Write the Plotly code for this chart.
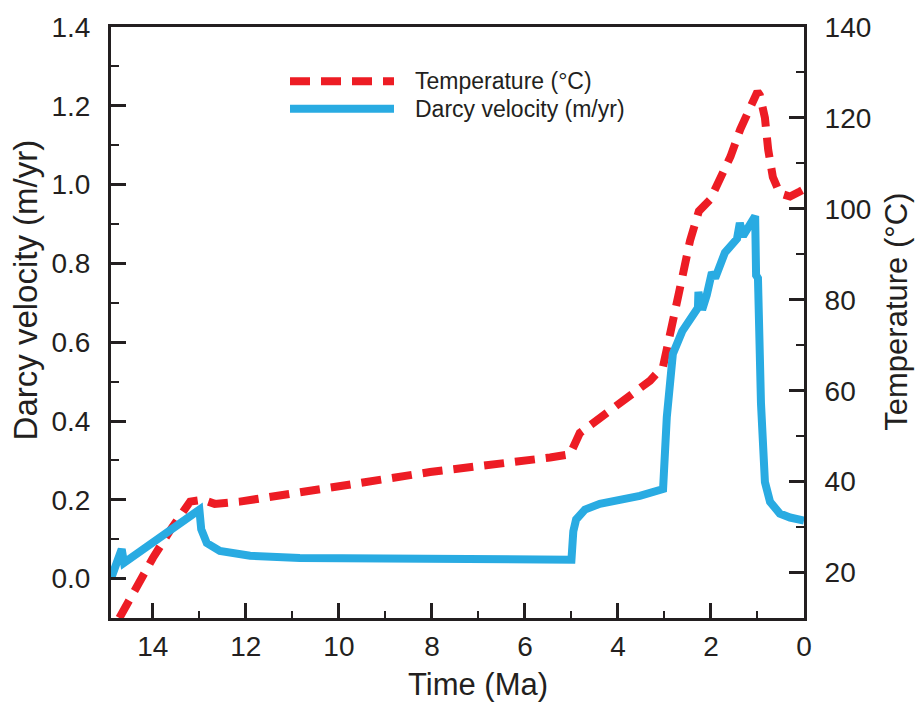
import plotly.graph_objects as go

# Darcy velocity (m/yr) vs time (Ma)
darcy_time = [14.9, 14.67, 14.62, 13.0, 12.96, 12.84, 12.56, 11.91, 10.84, 8.69, 5.0,
              4.96, 4.90, 4.71, 4.39, 3.53, 3.03, 2.95, 2.90, 2.82, 2.62, 2.45, 2.28, 2.27,
              2.19, 2.09, 1.98, 1.91, 1.70, 1.44, 1.38, 1.31, 1.16, 1.05, 1.03, 0.99,
              0.925, 0.84, 0.73, 0.52, 0.30, 0.0]
darcy_vel = [0.0, 0.075, 0.04, 0.175, 0.125, 0.09, 0.07, 0.058, 0.052, 0.05, 0.048,
             0.12, 0.15, 0.175, 0.19, 0.21, 0.2275, 0.41, 0.50, 0.57, 0.6275, 0.6625, 0.6875, 0.7275,
             0.6825, 0.72, 0.7775, 0.7625, 0.8275, 0.8625, 0.9025, 0.87, 0.895, 0.92, 0.77, 0.7625,
             0.445, 0.245, 0.195, 0.165, 0.155, 0.1475]

# Temperature (°C) vs time (Ma)
temp_time = [14.72, 14.28, 14.0, 13.6, 13.2, 12.92, 12.67, 12.13, 10.84, 8.04, 5.46, 5.03,
             4.82, 4.6, 3.96, 3.31, 3.03, 2.88, 2.73, 2.62, 2.45, 2.30, 2.26, 2.02, 1.80,
             1.58, 1.37, 1.16, 1.0, 0.95, 0.84, 0.77, 0.67, 0.52, 0.30, 0.09, 0.0]
temp_val = [10.0, 18.2, 23.2, 29.7, 35.6, 36.0, 35.1, 35.6, 37.7, 42.1, 45.3, 46.0,
            50.7, 52.3, 57.2, 62.2, 65.3, 71.8, 78.9, 84.8, 93.0, 97.5, 99.5, 102.0, 106.5,
            111.5, 117.5, 122.5, 125.8, 125.0, 120.0, 113.0, 107.0, 103.4, 102.7, 103.8, 104.3]

x_ticks = [14, 12, 10, 8, 6, 4, 2, 0]
v_ticks = [0.0, 0.2, 0.4, 0.6, 0.8, 1.0, 1.2, 1.4]
t_ticks = [20, 40, 60, 80, 100, 120, 140]

RED = "#ED1C24"
BLUE = "#29ABE2"
INK = "#231F20"
FONT = "Liberation Sans, Arial, sans-serif"

fig = go.Figure()
fig.add_trace(go.Scatter(x=temp_time, y=temp_val, mode="lines", yaxis="y",
                         line=dict(color=RED, width=8, dash="20px,11px"),
                         name="Temperature (°C)", showlegend=False))
fig.add_trace(go.Scatter(x=darcy_time, y=darcy_vel, mode="lines", yaxis="y2",
                         line=dict(color=BLUE, width=8),
                         name="Darcy velocity (m/yr)", showlegend=False))

tickfont = dict(family=FONT, size=28, color=INK)
titlefont = dict(family=FONT, size=31, color=INK)

fig.update_layout(
    width=917, height=706, autosize=False,
    margin=dict(l=111, r=113, t=18, b=88),
    paper_bgcolor="white", plot_bgcolor="white",
    xaxis=dict(range=[14.9, 0], tickvals=x_ticks, ticks="inside", ticklen=15, tickwidth=3,
               tickcolor=INK, showline=True, linecolor=INK, linewidth=3, mirror=True,
               showgrid=False, zeroline=False, tickfont=tickfont, ticklabelstandoff=1,
               minor=dict(dtick=1, ticks="inside", ticklen=7, tickwidth=1.5, tickcolor=INK)),
    yaxis=dict(range=[10, 140], side="right", tickvals=t_ticks, ticks="inside", ticklen=15,
               tickwidth=3, tickcolor=INK, showline=True, linecolor=INK, linewidth=3,
               showgrid=False, zeroline=False, tickfont=tickfont, ticklabelstandoff=12,
               minor=dict(dtick=10, tick0=0, ticks="inside", ticklen=8, tickwidth=1.5, tickcolor=INK)),
    yaxis2=dict(range=[-0.1, 1.4], side="left", overlaying="y", tickvals=v_ticks,
                ticktext=["%.1f" % v for v in v_ticks], ticks="inside", ticklen=15,
                tickwidth=3, tickcolor=INK, showline=True, linecolor=INK, linewidth=3,
                showgrid=False, zeroline=False, tickfont=tickfont, ticklabelstandoff=12,
                minor=dict(dtick=0.1, tick0=0, ticks="inside", ticklen=8, tickwidth=1.5, tickcolor=INK)),
    annotations=[
        dict(text="Time (Ma)", xref="paper", yref="paper", x=0.53, y=-0.113,
             showarrow=False, font=titlefont, xanchor="center", yanchor="middle"),
        dict(text="Darcy velocity (m/yr)", xref="paper", yref="paper", x=-0.122, y=0.555,
             showarrow=False, textangle=-90, font=dict(family=FONT, size=33, color=INK),
             xanchor="center", yanchor="middle"),
        dict(text="Temperature (°C)", xref="paper", yref="paper", x=1.134, y=0.518,
             showarrow=False, textangle=-90, font=titlefont,
             xanchor="center", yanchor="middle"),
        dict(text="Temperature (°C)", xref="paper", yref="paper", x=(413 - 111) / 693,
             y=(618 - 73) / 600, showarrow=False, xanchor="left", yanchor="middle",
             font=dict(family=FONT, size=23, color=INK)),
        dict(text="Darcy velocity (m/yr)", xref="paper", yref="paper", x=(413 - 111) / 693,
             y=(618 - 101) / 600, showarrow=False, xanchor="left", yanchor="middle",
             font=dict(family=FONT, size=23, color=INK)),
    ],
    shapes=[
        dict(type="line", xref="paper", yref="paper", x0=(290 - 111) / 693, x1=(394 - 111) / 693,
             y0=(618 - 73) / 600, y1=(618 - 73) / 600,
             line=dict(color=RED, width=8, dash="20px,11px")),
        dict(type="line", xref="paper", yref="paper", x0=(290 - 111) / 693, x1=(394 - 111) / 693,
             y0=(618 - 101) / 600, y1=(618 - 101) / 600,
             line=dict(color=BLUE, width=8)),
    ],
)

fig.write_html("out.html")
